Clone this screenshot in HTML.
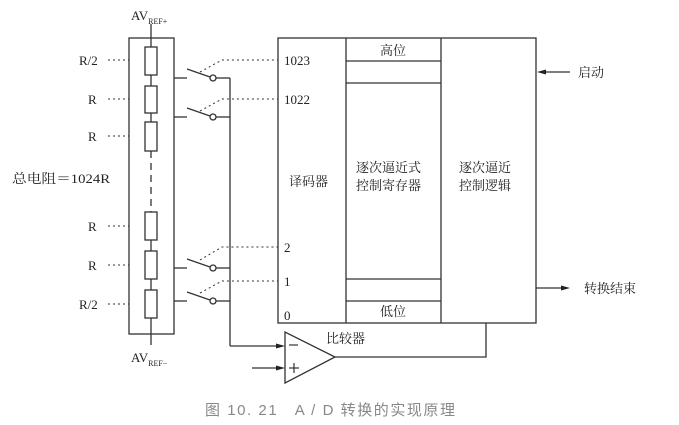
<!DOCTYPE html>
<html><head><meta charset="utf-8"><style>
html,body{margin:0;padding:0;background:#fff;}
svg{display:block;}
text{font-family:"Liberation Serif","Noto Serif CJK SC",serif;fill:#222;}
</style></head><body>
<svg width="679" height="425" viewBox="0 0 679 425" xmlns="http://www.w3.org/2000/svg">
<g stroke="#333" stroke-width="1.3" fill="none">
<rect x="129" y="38" width="45" height="296"/>
<line x1="151" y1="24" x2="151" y2="47"/>
<rect x="145" y="47" width="12" height="28" fill="#fff"/>
<line x1="151" y1="75" x2="151" y2="86"/>
<rect x="145" y="86" width="12" height="27"/>
<line x1="151" y1="113" x2="151" y2="122"/>
<rect x="145" y="122" width="12" height="29"/>
<line x1="151" y1="151" x2="151" y2="212" stroke-dasharray="7,5"/>
<rect x="145" y="212" width="12" height="28"/>
<line x1="151" y1="240" x2="151" y2="251"/>
<rect x="145" y="251" width="12" height="28"/>
<line x1="151" y1="279" x2="151" y2="290"/>
<rect x="145" y="290" width="12" height="28"/>
<line x1="151" y1="318" x2="151" y2="345"/>
<g>
<line x1="174" y1="78" x2="187" y2="78"/><line x1="187" y1="69" x2="210" y2="77"/><circle cx="213" cy="78" r="3"/><line x1="216" y1="78" x2="230" y2="78"/>
<line x1="174" y1="117" x2="187" y2="117"/><line x1="187" y1="108" x2="210" y2="116"/><circle cx="213" cy="117" r="3"/><line x1="216" y1="117" x2="230" y2="117"/>
<line x1="174" y1="268" x2="187" y2="268"/><line x1="187" y1="259" x2="210" y2="267"/><circle cx="213" cy="268" r="3"/><line x1="216" y1="268" x2="230" y2="268"/>
<line x1="174" y1="301" x2="187" y2="301"/><line x1="187" y1="292" x2="210" y2="300"/><circle cx="213" cy="301" r="3"/><line x1="216" y1="301" x2="230" y2="301"/>
</g>
<line x1="230" y1="78" x2="230" y2="346"/>
<line x1="230" y1="346" x2="280" y2="346"/>
<line x1="252" y1="368" x2="280" y2="368"/>
<g stroke-dasharray="2,3" stroke-width="1">
<polyline points="200,72 222,60 278,60"/>
<polyline points="200,111 222,99 278,99"/>
<polyline points="200,260 222,247 278,247"/>
<polyline points="200,293 222,281 278,281"/>
<line x1="108" y1="60" x2="129" y2="60"/>
<line x1="108" y1="99" x2="129" y2="99"/>
<line x1="108" y1="136" x2="129" y2="136"/>
<line x1="108" y1="226" x2="129" y2="226"/>
<line x1="108" y1="265" x2="129" y2="265"/>
<line x1="108" y1="304" x2="129" y2="304"/>
</g>
<rect x="278" y="38" width="258" height="285"/>
<line x1="346" y1="38" x2="346" y2="323"/>
<line x1="441" y1="38" x2="441" y2="323"/>
<line x1="346" y1="61" x2="441" y2="61"/>
<line x1="346" y1="83" x2="441" y2="83"/>
<line x1="346" y1="279" x2="441" y2="279"/>
<line x1="346" y1="301" x2="441" y2="301"/>
<polygon points="285,332 285,383 335,357" fill="#fff"/>
<polyline points="335,357 486,357 486,323"/>
<line x1="570" y1="72" x2="542" y2="72"/>
<line x1="536" y1="288" x2="564" y2="288"/>
</g>
<g fill="#222">
<polygon points="537,72 546,69.5 546,74.5"/>
<polygon points="570,288 561,285.5 561,290.5"/>
<polygon points="285,346 276,343.5 276,348.5"/>
<polygon points="285,368 276,365.5 276,370.5"/>
</g>
<g stroke="#333" stroke-width="1.2"><line x1="289" y1="345" x2="298" y2="345"/><line x1="289" y1="368" x2="299" y2="368"/><line x1="294" y1="363" x2="294" y2="373"/></g>
<g font-size="13">
<text x="131" y="20">AV<tspan font-size="8" dy="4">REF+</tspan></text>
<text x="131" y="362">AV<tspan font-size="8" dy="4">REF−</tspan></text>
<text x="79" y="65">R/2</text>
<text x="88" y="104">R</text>
<text x="88" y="141">R</text>
<text x="88" y="231">R</text>
<text x="88" y="270">R</text>
<text x="79" y="309">R/2</text>
<text x="12" y="183" textLength="98" lengthAdjust="spacingAndGlyphs">总电阻＝1024R</text>
<text x="284" y="65">1023</text>
<text x="284" y="104">1022</text>
<text x="284" y="252">2</text>
<text x="284" y="286">1</text>
<text x="284" y="320">0</text>
<text x="289" y="186">译码器</text>
<text x="380" y="55">高位</text>
<text x="380" y="316">低位</text>
<text x="356" y="172">逐次逼近式</text>
<text x="356" y="190">控制寄存器</text>
<text x="459" y="172">逐次逼近</text>
<text x="459" y="190">控制逻辑</text>
<text x="578" y="77">启动</text>
<text x="584" y="293">转换结束</text>
<text x="326" y="343">比较器</text>
</g>
<text x="205" y="415" font-size="15" textLength="250" lengthAdjust="spacing" style="font-family:'Liberation Sans','Noto Sans CJK SC',sans-serif;fill:#888">图 10. 21　A / D 转换的实现原理</text>
</svg>
</body></html>
